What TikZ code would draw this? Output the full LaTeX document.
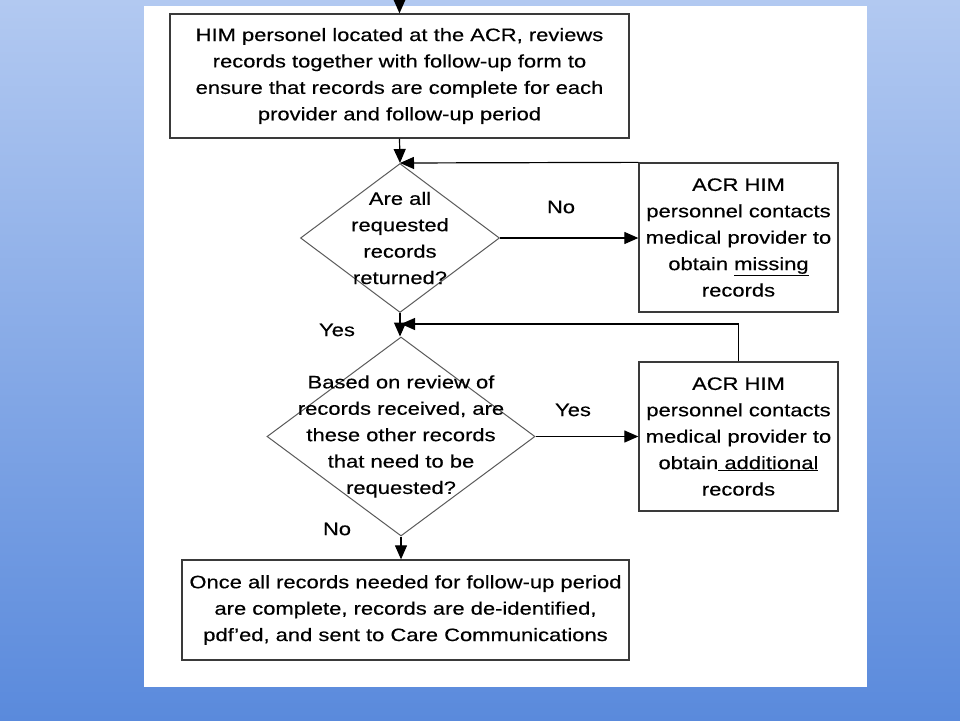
\documentclass[tikz,border=0pt]{standalone}
\usepackage{fontspec}
\setmainfont{Liberation Sans}[FakeStretch=1.22,FakeBold=0.35]
\usetikzlibrary{shapes.geometric,arrows.meta}
\definecolor{bgtop}{HTML}{B2C9F1}
\definecolor{bgbot}{HTML}{5A8ADC}
\definecolor{boxline}{HTML}{3A3A3A}
\definecolor{dialine}{HTML}{5A5A5A}
\begin{document}
\begin{tikzpicture}[x=1pt,y=-1pt,
  every node/.style={font=\fontsize{18}{26.4}\selectfont, text=black},
  procbox/.style={draw=boxline, line width=1.3pt, fill=white, align=center, inner sep=0pt},
  decision/.style={diamond, draw=dialine, line width=1pt, inner sep=0pt},
  dtext/.style={align=center, inner sep=0pt},
  lbl/.style={inner sep=0pt},
  flow/.style={draw=black, line width=1.2pt, -{Triangle[length=14pt,width=12pt]}}]
\useasboundingbox (0,0) rectangle (960,720);
\shade[top color=bgtop, bottom color=bgbot] (0,0) rectangle (960,720);
\fill[white] (144,6) rectangle (867,687);

\node[procbox, minimum width=459pt, minimum height=124pt] (b1) at (399.5,76)
  {HIM personel located at the ACR, reviews\\records together with follow-up form to\\ensure that records are complete for each\\provider and follow-up period};
\node[decision, minimum width=199pt, minimum height=149pt] (d1) at (400,238) {};
\node[dtext] (d1t) at (d1.center) {Are all\\requested\\records\\returned?};
\node[procbox, minimum width=199pt, minimum height=149pt] (b2) at (738.5,237.5)
  {ACR HIM\\personnel contacts\\medical provider to\\obtain \underline{missing}\\records};
\node[decision, minimum width=268pt, minimum height=199pt] (d2) at (401,436.5) {};
\node[dtext] (d2t) at (d2.center) {Based on review of\\records received, are\\these other records\\that need to be\\requested?};
\node[procbox, minimum width=199pt, minimum height=149pt] (b3) at (738.5,436.5)
  {ACR HIM\\personnel contacts\\medical provider to\\obtain\underline{ additional}\\records};
\node[procbox, minimum width=447pt, minimum height=100pt] (b4) at (405.5,610)
  {Once all records needed for follow-up period\\are complete, records are de-identified,\\pdf'ed, and sent to Care Communications};

\node[lbl] (lno1) at (561,207) {No};
\node[lbl] (lyes1) at (337,330) {Yes};
\node[lbl] (lyes2) at (573,410) {Yes};
\node[lbl] (lno2) at (337,529) {No};

\coordinate (entry) at (399.5,0);
\coordinate (j2) at (d2.north |- 0,324);
\coordinate (b3up) at (b3.north |- 0,324);

\draw[flow] (entry) -- (b1.north);
\draw[flow] (b1.south) -- (d1.north);
\draw[flow] (b2.north west) -- (d1.north);
\draw[flow] (d1.east) -- (b2.west |- d1.east);
\draw[flow] (d1.south) -- (d1.south |- d2.north);
\draw[flow] (b3.north) -- (b3up) -- (j2);
\draw[flow] (d2.east) -- (b3.west |- d2.east);
\draw[flow] (d2.south) -- (d2.south |- b4.north);
\end{tikzpicture}
\end{document}
